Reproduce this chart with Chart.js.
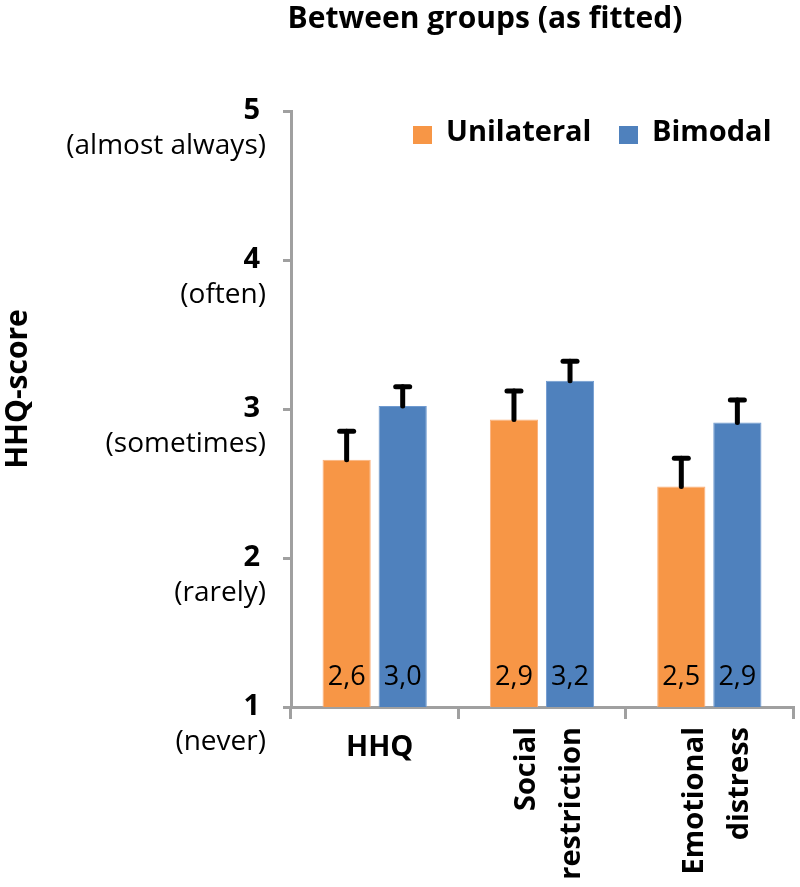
<!DOCTYPE html>
<html><head><meta charset="utf-8">
<script src="https://cdn.jsdelivr.net/npm/chart.js@4/dist/chart.umd.min.js"></script>
<style>html,body{margin:0;padding:0;background:#fff}#wrap{width:800px;height:887px}</style>
</head><body><div id="wrap"><canvas id="c" width="800" height="887"></canvas></div>
<script>
const titleText = "Between groups (as fitted)";
const yAxisTitle = "HHQ-score";
const categories = [["HHQ"], ["Social", "restriction"], ["Emotional", "distress"]];
const seriesNames = ["Unilateral", "Bimodal"];
const unilateral = [2.66, 2.93, 2.48];
const bimodal = [3.02, 3.19, 2.91];
const unilateralErr = [0.19, 0.19, 0.19];
const bimodalErr = [0.13, 0.13, 0.15];
const unilateralLabels = ["2,6", "2,9", "2,5"];
const bimodalLabels = ["3,0", "3,2", "2,9"];
const yTicks = [1, 2, 3, 4, 5];
const yTickNotes = ["(never)", "(rarely)", "(sometimes)", "(often)", "(almost always)"];

const FONT = "'Open Sans', sans-serif";
const ORANGE = "#F79646", BLUE = "#4F81BD";

const overlay = {
  id: 'overlay',
  afterDatasetsDraw(chart) {
    const ctx = chart.ctx, y = chart.scales.y;
    const errs = [unilateralErr, bimodalErr];
    const vals = [unilateral, bimodal];
    const labs = [unilateralLabels, bimodalLabels];
    ctx.save();
    for (let d = 0; d < 2; d++) {
      const meta = chart.getDatasetMeta(d);
      meta.data.forEach((bar, i) => {
        const top = y.getPixelForValue(vals[d][i] + errs[d][i]);
        ctx.strokeStyle = '#000'; ctx.lineWidth = 5; ctx.lineCap = 'round';
        ctx.beginPath(); ctx.moveTo(bar.x, bar.y); ctx.lineTo(bar.x, top); ctx.stroke();
        ctx.beginPath(); ctx.moveTo(bar.x - 7, top); ctx.lineTo(bar.x + 7, top); ctx.stroke();
        ctx.fillStyle = '#000'; ctx.font = "27px " + FONT;
        ctx.textAlign = 'center'; ctx.textBaseline = 'middle';
        ctx.fillText(labs[d][i], bar.x, y.getPixelForValue(1) - 30);
      });
    }
    ctx.restore();
  },
  afterDraw(chart) {
    const ctx = chart.ctx, y = chart.scales.y, x = chart.scales.x;
    const area = chart.chartArea;
    ctx.save();
    ctx.fillStyle = '#000';
    ctx.font = "bold 30px " + FONT; ctx.textAlign = 'center'; ctx.textBaseline = 'middle';
    ctx.fillText(titleText, 485, 19);
    yTicks.forEach((v, i) => {
      const py = y.getPixelForValue(v);
      ctx.textAlign = 'right'; ctx.textBaseline = 'middle';
      ctx.font = "bold 29px " + FONT;
      ctx.fillText(String(v), 260, py);
      ctx.font = "28px " + FONT;
      ctx.fillText(yTickNotes[i], 266, py + 35);
    });
    ctx.save();
    ctx.translate(18, 389); ctx.rotate(-Math.PI / 2);
    ctx.font = "bold 30px " + FONT; ctx.textAlign = 'center'; ctx.textBaseline = 'middle';
    ctx.fillText(yAxisTitle, 0, 0);
    ctx.restore();
    categories.forEach((lines, i) => {
      const cx = x.getPixelForValue(i);
      ctx.font = "bold 29px " + FONT;
      if (lines.length === 1) {
        ctx.textAlign = 'center'; ctx.textBaseline = 'middle';
        ctx.fillText(lines[0], cx + 5, area.bottom + 41);
      } else {
        lines.forEach((t, k) => {
          ctx.save();
          ctx.translate(cx - 15 + k * 45, area.bottom + 20);
          ctx.rotate(-Math.PI / 2);
          ctx.textAlign = 'right'; ctx.textBaseline = 'middle';
          ctx.fillText(t, 0, 0);
          ctx.restore();
        });
      }
    });
    const items = [[413, 0], [619, 1]];
    items.forEach(([lx, d]) => {
      ctx.fillStyle = chart.data.datasets[d].backgroundColor;
      ctx.fillRect(lx, 126, 19, 18);
      ctx.fillStyle = '#000';
      ctx.font = "bold 29px " + FONT; ctx.textAlign = 'left'; ctx.textBaseline = 'middle';
      ctx.fillText(chart.data.datasets[d].label, lx + 33, 133);
    });
    ctx.restore();
  }
};

new Chart(document.getElementById('c'), {
  type: 'bar',
  data: {
    labels: categories.map(c => c.join(' ')),
    datasets: [
      { label: seriesNames[0], data: unilateral, backgroundColor: ORANGE, borderColor: '#fbb07a', borderWidth: 1,
        categoryPercentage: 0.67, barPercentage: 0.86 },
      { label: seriesNames[1], data: bimodal, backgroundColor: BLUE, borderColor: '#6f9ad0', borderWidth: 1,
        categoryPercentage: 0.67, barPercentage: 0.86 }
    ]
  },
  options: {
    responsive: false, animation: false,
    layout: { padding: { top: 111, right: 7, left: 0, bottom: 0 } },
    plugins: { legend: { display: false }, title: { display: false }, tooltip: { enabled: false } },
    scales: {
      y: {
        min: 1, max: 5,
        ticks: { display: false, stepSize: 1 },
        grid: { display: true, drawOnChartArea: false, drawTicks: true, tickLength: 8, color: '#a0a0a0', lineWidth: 3 },
        border: { display: true, color: '#a0a0a0', width: 3 },
        afterFit(s) { s.width = 291; }
      },
      x: {
        ticks: { display: false },
        grid: { display: true, offset: true, drawOnChartArea: false, drawTicks: true, tickLength: 12, color: '#a0a0a0', lineWidth: 3 },
        border: { display: true, color: '#a0a0a0', width: 3 },
        afterFit(s) { s.height = 180; }
      }
    }
  },
  plugins: [overlay]
});
</script></body></html>
